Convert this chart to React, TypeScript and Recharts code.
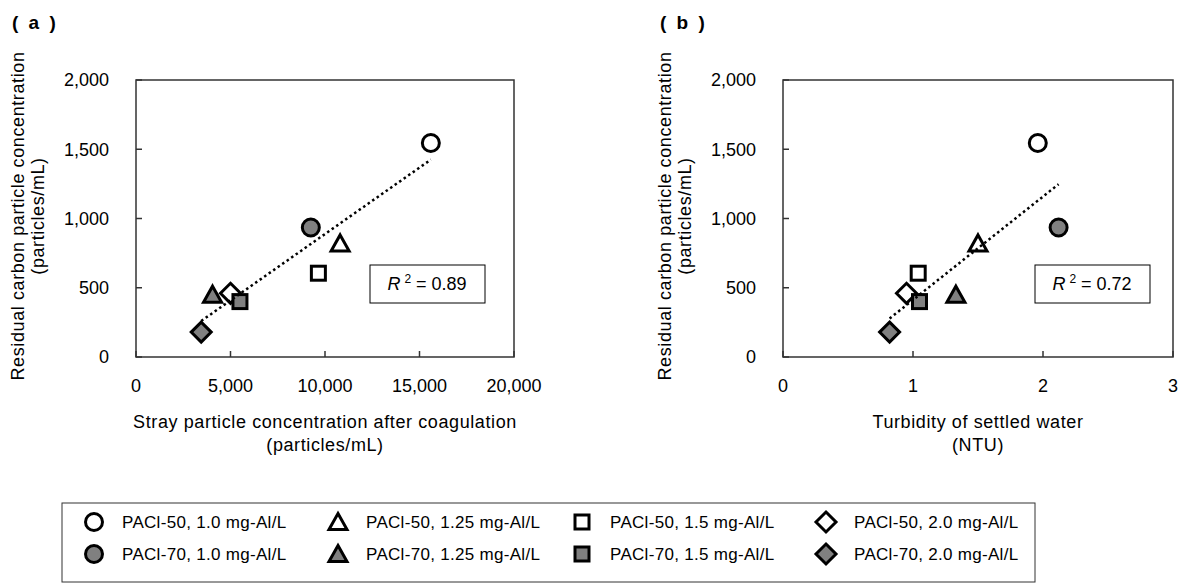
import React from 'react';
import { ScatterChart, Scatter, XAxis, YAxis, ReferenceArea } from 'recharts';

const FONT = '"Liberation Sans", Arial, sans-serif';

// series order: PACl-50 (open) then PACl-70 (grey), doses 1.0 / 1.25 / 1.5 / 2.0
const seriesLabels = [
  'PACl-50, 1.0 mg-Al/L',
  'PACl-50, 1.25 mg-Al/L',
  'PACl-50, 1.5 mg-Al/L',
  'PACl-50, 2.0 mg-Al/L',
  'PACl-70, 1.0 mg-Al/L',
  'PACl-70, 1.25 mg-Al/L',
  'PACl-70, 1.5 mg-Al/L',
  'PACl-70, 2.0 mg-Al/L',
];
const markerKinds = ['circle', 'triangle', 'square', 'diamond', 'circle', 'triangle', 'square', 'diamond'];
const markerFills = ['#fff', '#fff', '#fff', '#fff', '#808080', '#808080', '#808080', '#808080'];

// residual carbon particles (particles/mL), same samples in both panels
const residualCarbon = [1545, 820, 605, 460, 935, 450, 400, 180];
// (a) stray particles after coagulation (particles/mL)
const strayParticles = [15600, 10800, 9650, 5000, 9250, 4050, 5500, 3450];
// (b) settled water turbidity (NTU)
const settledTurbidity = [1.96, 1.5, 1.04, 0.95, 2.12, 1.33, 1.05, 0.82];

// linear trend line end points
const trendA = [{ x: 3450, y: 260 }, { x: 15600, y: 1425 }];
const trendB = [{ x: 0.82, y: 278 }, { x: 2.12, y: 1248 }];

const r2A = '0.89';
const r2B = '0.72';

const ticksA = [0, 5000, 10000, 15000, 20000];
const ticksB = [0, 1, 2, 3];
const ticksY = [0, 500, 1000, 1500, 2000];

function Marker({ kind, cx, cy, fill }: { kind: string; cx: number; cy: number; fill: string }) {
  const s = { fill, stroke: '#000', strokeWidth: 3 };
  if (kind === 'circle') return <circle cx={cx} cy={cy} r={8.5} {...s} />;
  if (kind === 'triangle')
    return (
      <polygon
        points={`${cx},${cy - 8.5} ${cx + 9},${cy + 7.5} ${cx - 9},${cy + 7.5}`}
        strokeLinejoin="miter"
        {...s}
      />
    );
  if (kind === 'square') return <rect x={cx - 7} y={cy - 7} width={14} height={14} {...s} />;
  return <polygon points={`${cx},${cy - 10} ${cx + 10},${cy} ${cx},${cy + 10} ${cx - 10},${cy}`} {...s} />;
}

const tickStyle = { fontSize: 18, fill: '#000', fontFamily: FONT };
const fmt = (v: number) => v.toLocaleString('en-US');

function Panel({
  xs, xMax, xTicks, trend, width, margin,
}: {
  xs: number[]; xMax: number; xTicks: number[]; trend: { x: number; y: number }[];
  width: number; margin: { top: number; right: number; bottom: number; left: number };
}) {
  return (
    <ScatterChart width={width} height={470} margin={margin} style={{ fontFamily: FONT }}>
      <XAxis
        type="number" dataKey="x" domain={[0, xMax]} ticks={xTicks} interval={0}
        tickFormatter={fmt} tick={tickStyle} axisLine={false}
        tickSize={-6} tickMargin={28} tickLine={{ stroke: '#333', strokeWidth: 1.5 }} height={30}
      />
      <YAxis
        type="number" dataKey="y" domain={[0, 2000]} ticks={ticksY} interval={0}
        tickFormatter={fmt} tick={tickStyle} axisLine={false}
        tickSize={-6} tickMargin={33} tickLine={{ stroke: '#333', strokeWidth: 1.5 }} width={60}
      />
      <ReferenceArea x1={0} x2={xMax} y1={0} y2={2000} fill="none" stroke="#333" strokeWidth={1.5} />
      {xs.map((x, i) => (
        <Scatter
          key={seriesLabels[i]}
          name={seriesLabels[i]}
          data={[{ x, y: residualCarbon[i] }]}
          isAnimationActive={false}
          shape={(p: any) => <Marker kind={markerKinds[i]} cx={p.cx} cy={p.cy} fill={markerFills[i]} />}
        />
      ))}
      <Scatter
        data={trend}
        isAnimationActive={false}
        line={{ stroke: '#000', strokeWidth: 2.5, strokeDasharray: '2.5 3' }}
        shape={() => <g />}
      />
    </ScatterChart>
  );
}

function R2Box({ x, y, value }: { x: number; y: number; value: string }) {
  return (
    <g>
      <rect x={x} y={y} width={115} height={38} fill="#fff" stroke="#000" strokeWidth={1} />
      <text x={x + 57} y={y + 25} textAnchor="middle" fontSize={18} fontFamily={FONT} fill="#000">
        <tspan fontStyle="italic">R</tspan>
        <tspan fontSize={12} dx={4} dy={-7}>2</tspan>
        <tspan dy={7}>{` = ${value}`}</tspan>
      </text>
    </g>
  );
}

const legendCols = [94, 338, 582, 826];
const legendRows = [522, 554];

export default function App() {
  const txt = { fontSize: 18, fontFamily: FONT, fill: '#000', letterSpacing: 0.6 };
  return (
    <div style={{ position: 'absolute', left: 0, top: 0, width: 1184, height: 586, background: '#fff' }}>
      <div style={{ position: 'absolute', left: 0, top: 0 }}>
        <Panel
          xs={strayParticles} xMax={20000} xTicks={ticksA} trend={trendA}
          width={560} margin={{ top: 80, right: 46, bottom: 83, left: 76 }}
        />
      </div>
      <div style={{ position: 'absolute', left: 700, top: 0 }}>
        <Panel
          xs={settledTurbidity} xMax={3} xTicks={ticksB} trend={trendB}
          width={484} margin={{ top: 80, right: 11, bottom: 83, left: 23 }}
        />
      </div>
      <svg
        width={1184} height={586}
        style={{ position: 'absolute', left: 0, top: 0, pointerEvents: 'none' }}
      >
        <text x={12} y={29} fontSize={19} fontWeight="bold" fontFamily={FONT} letterSpacing={2.5}>( a )</text>
        <text x={660} y={29} fontSize={19} fontWeight="bold" fontFamily={FONT} letterSpacing={2.5}>( b )</text>

        {[0, 647].map((dx) => (
          <g key={dx}>
            <text transform={`translate(${18 + dx},216) rotate(-90)`} textAnchor="middle" dominantBaseline="central" {...txt}>
              Residual carbon particle concentration
            </text>
            <text transform={`translate(${38 + dx},216) rotate(-90)`} textAnchor="middle" dominantBaseline="central" {...txt}>
              (particles/mL)
            </text>
          </g>
        ))}

        <text x={325} y={422} textAnchor="middle" dominantBaseline="central" {...txt}>
          Stray particle concentration after coagulation
        </text>
        <text x={325} y={445} textAnchor="middle" dominantBaseline="central" {...txt}>(particles/mL)</text>
        <text x={978} y={422} textAnchor="middle" dominantBaseline="central" {...txt}>Turbidity of settled water</text>
        <text x={978} y={445} textAnchor="middle" dominantBaseline="central" {...txt}>(NTU)</text>

        <R2Box x={370} y={265} value={r2A} />
        <R2Box x={1035} y={265} value={r2B} />

        <rect x={62} y={503} width={973} height={79} fill="none" stroke="#333" strokeWidth={1} />
        {seriesLabels.map((label, i) => {
          const cx = legendCols[i % 4];
          const cy = legendRows[Math.floor(i / 4)];
          return (
            <g key={label}>
              <Marker kind={markerKinds[i]} cx={cx} cy={cy} fill={markerFills[i]} />
              <text
                x={cx + 28} y={cy} dominantBaseline="central"
                fontSize={17} fontFamily={FONT} fill="#000" letterSpacing={0.3}
              >
                {label}
              </text>
            </g>
          );
        })}
      </svg>
    </div>
  );
}
